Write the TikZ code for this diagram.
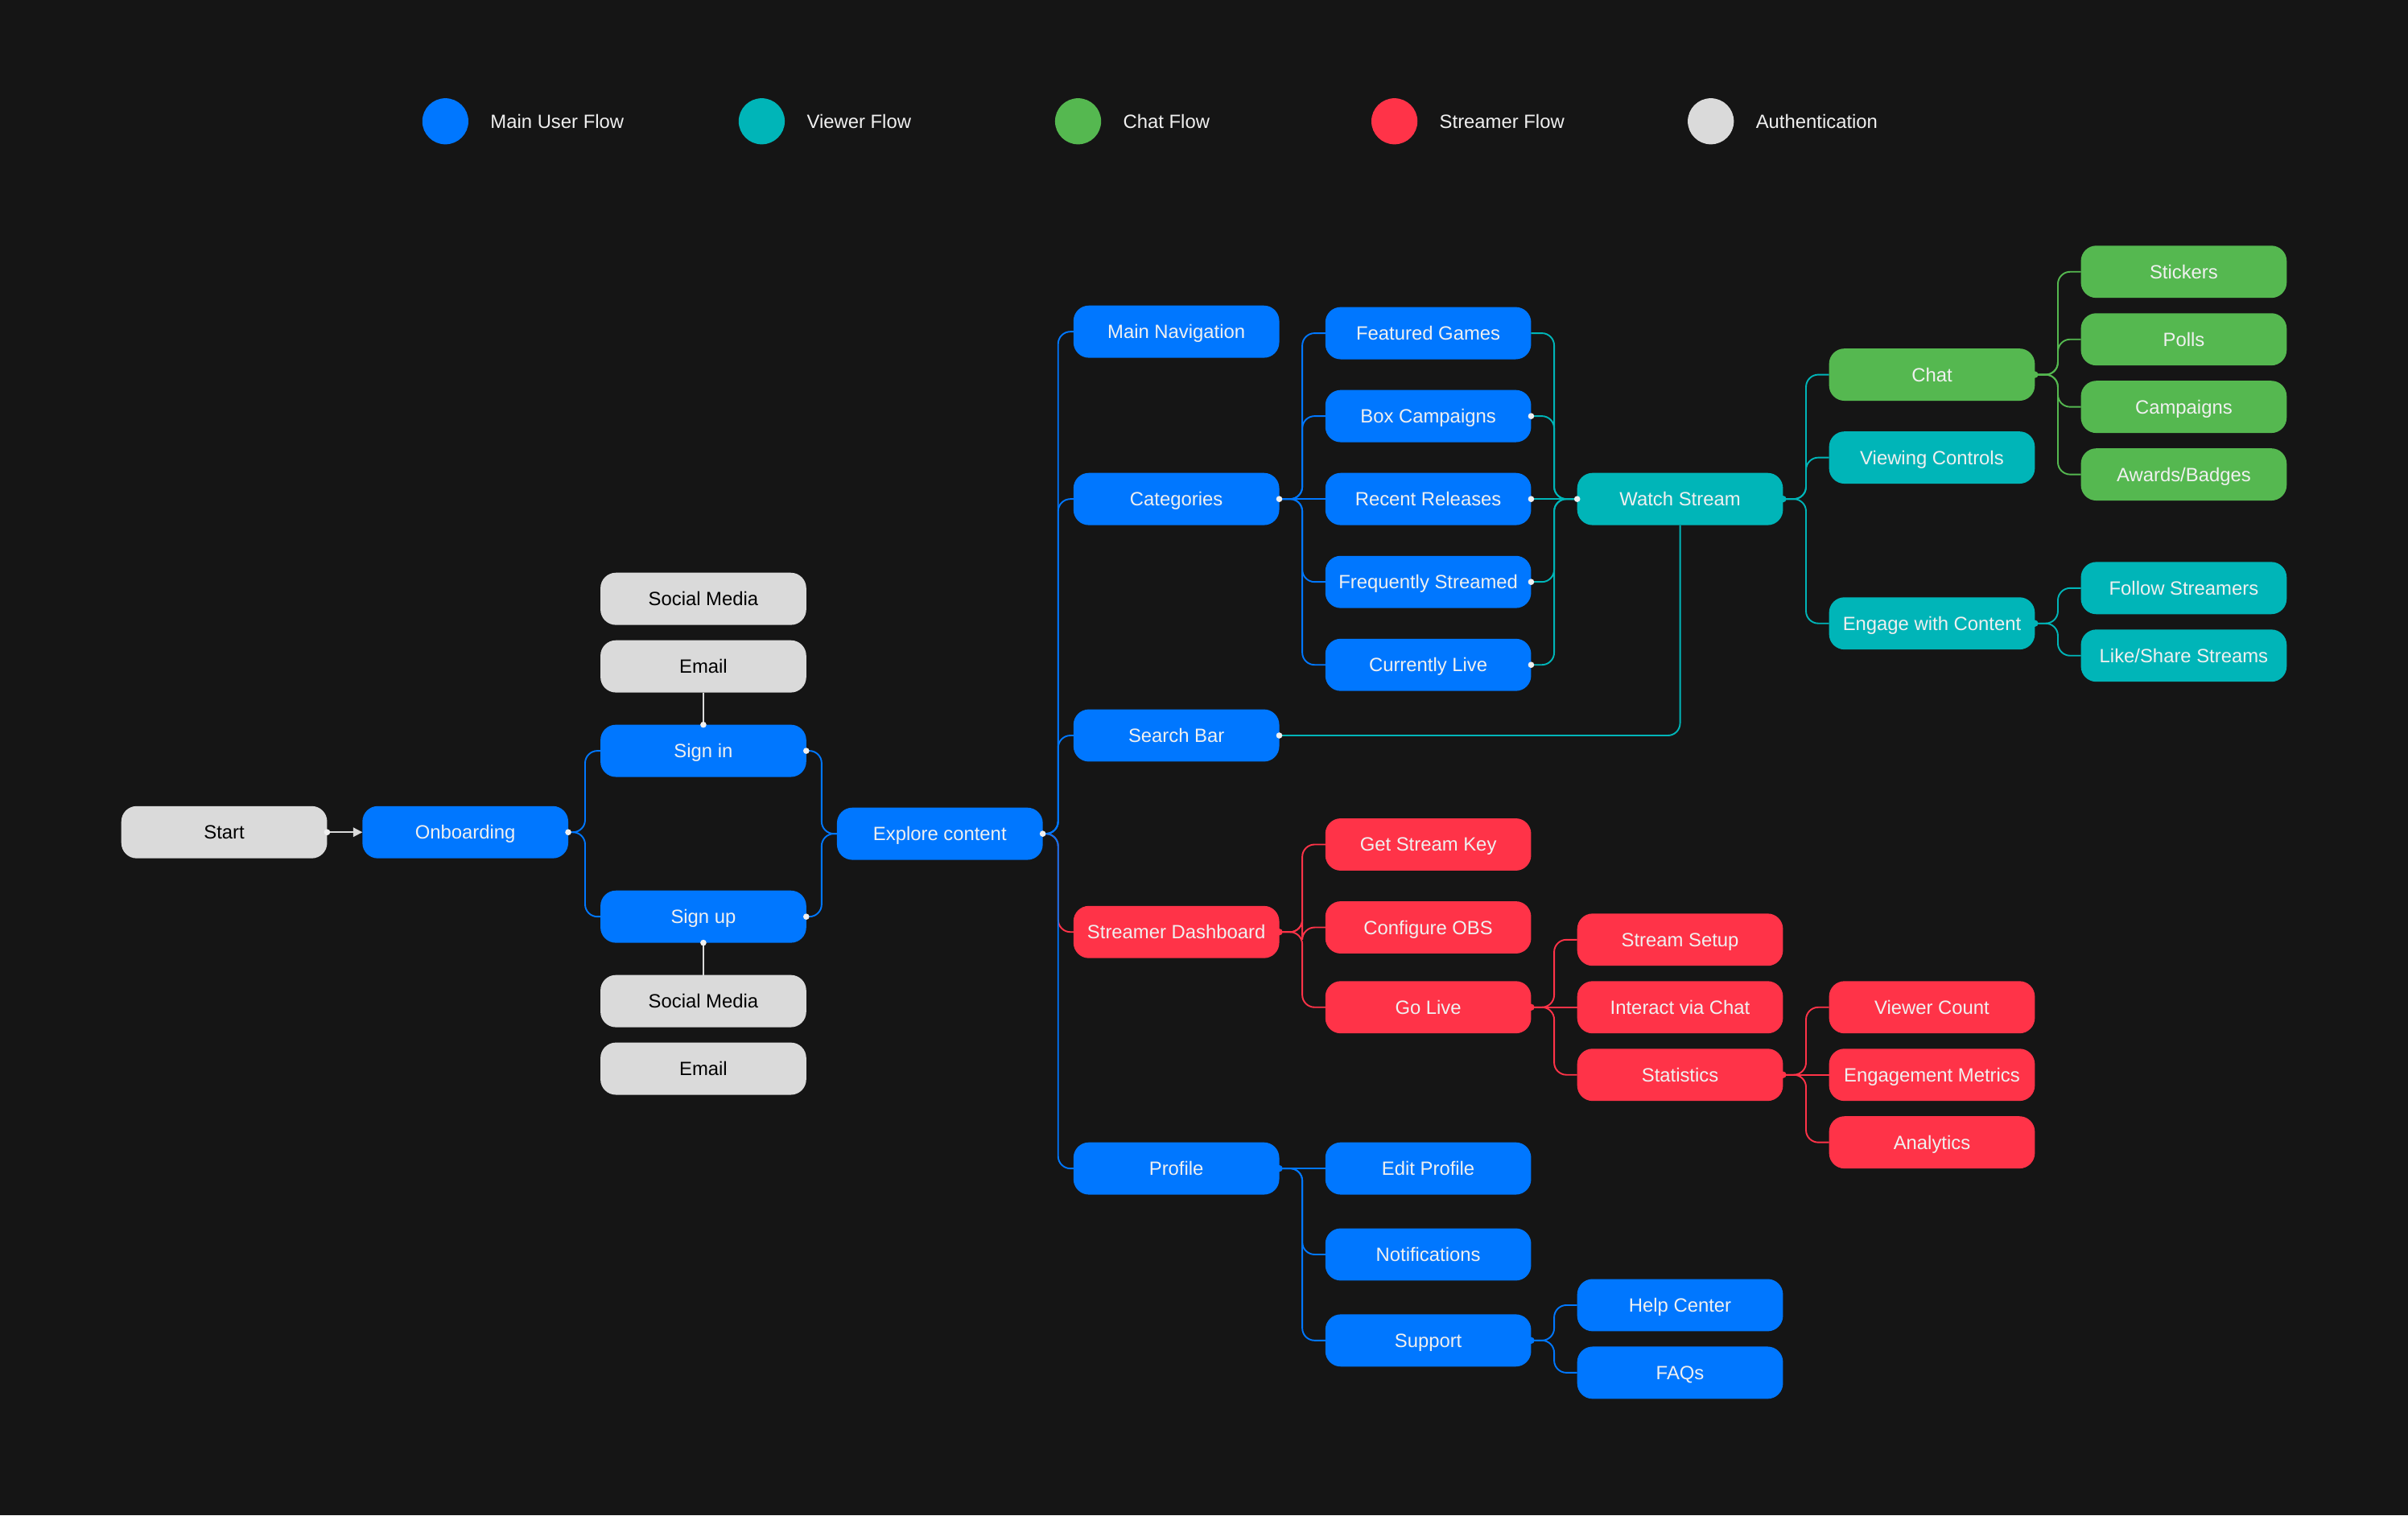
\documentclass[tikz,border=0pt]{standalone}
\usepackage{fontspec}
\setmainfont{Liberation Sans}
\usetikzlibrary{shapes,arrows.meta,positioning,calc}
\definecolor{bg}{RGB}{21,21,21}
\definecolor{mainblue}{RGB}{0,119,255}
\definecolor{viewteal}{RGB}{0,181,184}
\definecolor{chatgreen}{RGB}{85,184,80}
\definecolor{streamred}{RGB}{255,51,72}
\definecolor{authgray}{RGB}{218,218,218}
\definecolor{txt}{RGB}{240,240,240}
\newcommand{\boxfont}{\fontsize{12.5}{15}\selectfont}

\tikzset{
  flowbox/.style={rectangle, rounded corners=10pt, minimum width=134pt, minimum height=34pt, inner sep=0pt, outer sep=0pt, font=\boxfont, text=txt, text depth=0pt},
  mainbox/.style={flowbox, fill=mainblue},
  viewbox/.style={flowbox, fill=viewteal},
  chatbox/.style={flowbox, fill=chatgreen},
  streambox/.style={flowbox, fill=streamred},
  authbox/.style={flowbox, fill=authgray, text=black},
  link/.style={line width=1pt, rounded corners=8pt},
  mainlink/.style={link, draw=mainblue},
  viewlink/.style={link, draw=viewteal},
  chatlink/.style={link, draw=chatgreen},
  streamlink/.style={link, draw=streamred},
  authlink/.style={link, draw=authgray},
  legtext/.style={font=\boxfont, text=txt, inner sep=0pt, anchor=west}
}

\begin{document}
\begin{tikzpicture}[x=1pt, y=-1pt, node distance=20pt]
  \fill[bg] (0,0) rectangle (1568,987);

  % legend
  \node[circle, fill=mainblue, minimum size=30pt] (legmain) at (290,79) {};
  \node[legtext, right=14pt of legmain] {Main User Flow};
  \node[circle, fill=viewteal, minimum size=30pt] (legview) at (496,79) {};
  \node[legtext, right=14pt of legview] {Viewer Flow};
  \node[circle, fill=chatgreen, minimum size=30pt] (legchat) at (702,79) {};
  \node[legtext, right=14pt of legchat] {Chat Flow};
  \node[circle, fill=streamred, minimum size=30pt] (legstream) at (908,79) {};
  \node[legtext, right=14pt of legstream] {Streamer Flow};
  \node[circle, fill=authgray, minimum size=30pt] (legauth) at (1114,79) {};
  \node[legtext, right=14pt of legauth] {Authentication};

  % onboarding
  \node[authbox] (start) at (146,542) {Start};
  \node[mainbox, right=23pt of start] (onb) {Onboarding};
  \node[mainbox, right=21pt of onb, yshift=53pt] (signin) {Sign in};
  \node[mainbox, right=21pt of onb, yshift=-55pt] (signup) {Sign up};
  \node[authbox, above=21pt of signin] (email1) {Email};
  \node[authbox, above=10pt of email1] (social1) {Social Media};
  \node[authbox, below=21pt of signup] (social2) {Social Media};
  \node[authbox, below=10pt of social2] (email2) {Email};
  \node[mainbox] (explore) at (612,543) {Explore content};

  % main branches
  \node[mainbox] (mainnav) at (766,216) {Main Navigation};
  \node[mainbox] (cat) at (766,325) {Categories};
  \node[mainbox] (search) at (766,479) {Search Bar};
  \node[streambox] (dash) at (766,607) {Streamer Dashboard};
  \node[mainbox] (profile) at (766,761) {Profile};

  % categories
  \node[mainbox, right=30pt of cat] (recent) {Recent Releases};
  \node[mainbox, above=of recent] (box) {Box Campaigns};
  \node[mainbox, above=of box] (feat) {Featured Games};
  \node[mainbox, below=of recent] (freq) {Frequently Streamed};
  \node[mainbox, below=of freq] (live) {Currently Live};

  % viewer
  \node[viewbox, right=30pt of recent] (watch) {Watch Stream};
  \node[chatbox, right=30pt of watch, yshift=81pt] (chat) {Chat};
  \node[viewbox, below=of chat] (viewing) {Viewing Controls};
  \node[viewbox, right=30pt of watch, yshift=-81pt] (engage) {Engage with Content};
  \node[chatbox, right=30pt of chat, yshift=67pt] (stickers) {Stickers};
  \node[chatbox, below=10pt of stickers] (polls) {Polls};
  \node[chatbox, below=10pt of polls] (campaigns) {Campaigns};
  \node[chatbox, below=10pt of campaigns] (awards) {Awards/Badges};
  \node[viewbox, right=30pt of engage, yshift=23pt] (follow) {Follow Streamers};
  \node[viewbox, below=10pt of follow] (like) {Like/Share Streams};

  % streamer
  \node[streambox, right=30pt of dash, yshift=57pt] (getkey) {Get Stream Key};
  \node[streambox, right=30pt of dash, yshift=3pt] (obs) {Configure OBS};
  \node[streambox, below=18pt of obs] (golive) {Go Live};
  \node[streambox, right=30pt of golive] (interact) {Interact via Chat};
  \node[streambox, above=10pt of interact] (setup) {Stream Setup};
  \node[streambox, below=10pt of interact] (stats) {Statistics};
  \node[streambox, right=30pt of stats] (engmet) {Engagement Metrics};
  \node[streambox, above=10pt of engmet] (viewer) {Viewer Count};
  \node[streambox, below=10pt of engmet] (analytics) {Analytics};

  % profile
  \node[mainbox, right=30pt of profile] (editp) {Edit Profile};
  \node[mainbox, below=22pt of editp] (notif) {Notifications};
  \node[mainbox, below=22pt of notif] (support) {Support};
  \node[mainbox, right=30pt of support, yshift=23pt] (help) {Help Center};
  \node[mainbox, below=10pt of help] (faqs) {FAQs};

  % connectors
  \draw[authlink, -{Triangle[length=6pt,width=6pt]}] (start.east) -- (onb.west);
  \draw[authlink] (email1.south) -- (signin.north);
  \draw[authlink] (signup.south) -- (social2.north);
  \foreach \c in {signin,signup}
    \draw[mainlink] (onb.east) -- ++(11,0) |- (\c.west);
  \foreach \c in {signin,signup}
    \draw[mainlink] (\c.east) -- ++(10,0) |- (explore.west);
  \draw[streamlink] (explore.east) -- ++(10,0) |- (dash.west);
  \foreach \c in {mainnav,cat,search,profile}
    \draw[mainlink] (explore.east) -- ++(10,0) |- (\c.west);
  \foreach \c in {feat,box,freq,live}
    \draw[mainlink] (cat.east) -- ++(15,0) |- (\c.west);
  \draw[mainlink] (cat.east) -- (recent.west);
  \foreach \c in {feat,box,freq,live}
    \draw[viewlink] (\c.east) -- ++(15,0) |- (watch.west);
  \draw[viewlink] (recent.east) -- (watch.west);
  \draw[viewlink] (watch.south) |- (search.east);
  \foreach \c in {chat,viewing,engage}
    \draw[viewlink] (watch.east) -- ++(15,0) |- (\c.west);
  \foreach \c in {stickers,polls,campaigns,awards}
    \draw[chatlink] (chat.east) -- ++(15,0) |- (\c.west);
  \foreach \c in {follow,like}
    \draw[viewlink] (engage.east) -- ++(15,0) |- (\c.west);
  \foreach \c in {getkey,obs,golive}
    \draw[streamlink] (dash.east) -- ++(15,0) |- (\c.west);
  \foreach \c in {setup,stats}
    \draw[streamlink] (golive.east) -- ++(15,0) |- (\c.west);
  \draw[streamlink] (golive.east) -- (interact.west);
  \foreach \c in {viewer,analytics}
    \draw[streamlink] (stats.east) -- ++(15,0) |- (\c.west);
  \draw[streamlink] (stats.east) -- (engmet.west);
  \foreach \c in {notif,support}
    \draw[mainlink] (profile.east) -- ++(15,0) |- (\c.west);
  \draw[mainlink] (profile.east) -- (editp.west);
  \foreach \c in {help,faqs}
    \draw[mainlink] (support.east) -- ++(15,0) |- (\c.west);

  % end dots
  \foreach \p in {start.east,signin.north,signup.south,onb.east,signin.east,signup.east,explore.east,cat.east,box.east,recent.east,freq.east,live.east,watch.west,search.east}
    \fill[txt] (\p) circle (2pt);
  \foreach \p in {watch.east,engage.east}
    \fill[viewteal] (\p) circle (2.2pt);
  \fill[chatgreen] (chat.east) circle (2.2pt);
  \foreach \p in {dash.east,golive.east,stats.east}
    \fill[streamred] (\p) circle (2.2pt);
  \foreach \p in {profile.east,support.east}
    \fill[mainblue] (\p) circle (2.2pt);
\end{tikzpicture}
\end{document}
